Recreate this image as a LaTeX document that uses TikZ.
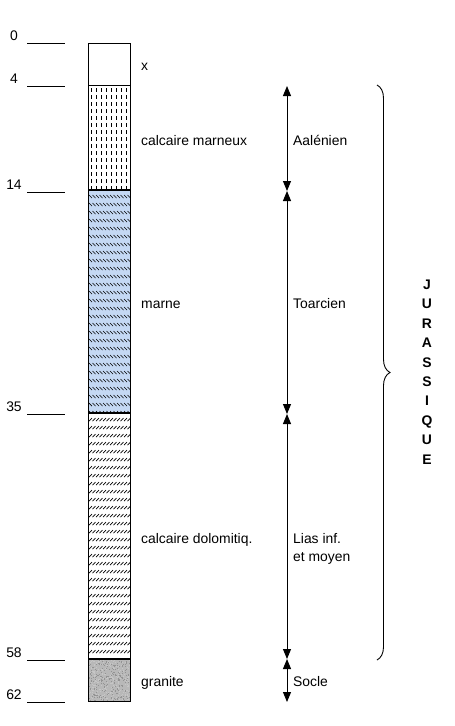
\documentclass[tikz,border=0pt]{standalone}
\usepackage{fontspec}
\setmainfont{Liberation Sans}
\usetikzlibrary{arrows.meta,decorations.pathreplacing,positioning}

\definecolor{marneblue}{RGB}{196,216,243}
\definecolor{granitegray}{RGB}{184,184,184}

\begin{document}
\begin{tikzpicture}[
    x=1pt, y=-1pt,
    txt/.style={font=\fontsize{13.9}{18}\selectfont, inner sep=0pt},
    label/.style={txt, anchor=base west, align=left},
    depth/.style={txt, anchor=base},
    tick/.style={line width=1pt},
    span/.style={{Triangle[width=8pt,length=10pt]}-{Triangle[width=8pt,length=10pt]}, line width=1pt},
    bound/.style={line width=1.8pt},
    hatch/.style={line width=0.7pt}
]
    \useasboundingbox (0,0) rectangle (455,726);

    % Depth scale
    \foreach \d/\y in {0/43, 4/86, 14/192, 35/414, 58/660, 62/702} {
        \draw[tick] (27,\y) -- (65,\y);
        \node[depth] (num\d) at (14,\y-3) {\d};
    }

    % Column fills
    \fill[marneblue] (88,190) rectangle (130,413);
    \fill[granitegray] (88,659) rectangle (130,701);
    \pgfmathsetseed{7}
    \foreach \i in {1,...,260} {
        \fill[gray!45] (88+42*rnd,659+42*rnd) rectangle +(1,1);
        \fill[gray!85] (88+42*rnd,659+42*rnd) rectangle +(1,1);
    }

    % calcaire marneux
    \begin{scope}
        \clip (88,85) rectangle (130,190);
        \foreach \x in {91,96,...,128}
            \foreach \y in {88,95,...,188}
                \draw[hatch] (\x,\y) -- (\x,\y+4);
    \end{scope}

    % marne
    \begin{scope}
        \clip (88,190) rectangle (130,413);
        \foreach \y in {195,203,...,411}
            \foreach \x in {89,92.5,...,128}
                \draw[hatch] (\x,\y) -- (\x+3,\y+3);
    \end{scope}

    % calcaire dolomitique
    \begin{scope}
        \clip (88,413) rectangle (130,659);
        \foreach \y in {418,426,...,656}
            \foreach \x in {89,92.5,...,128}
                \draw[hatch] (\x,\y+3) -- (\x+3,\y);
    \end{scope}

    % Column outline and boundaries
    \draw[line width=1pt] (88,43) rectangle (130,701);
    \draw[line width=1pt] (88,85) -- (130,85);
    \draw[bound] (88,190) -- (130,190);
    \draw[bound] (88,413) -- (130,413);
    \draw[bound] (88,659) -- (130,659);

    % Lithology
    \node[label] (litx) at (141,70) {x};
    \node[label] (litmarneux) at (141,145) {calcaire marneux};
    \node[label] (litmarne) at (141,308) {marne};
    \node[label] (litdolo) at (141,543) {calcaire dolomitiq.};
    \node[label] (litgranite) at (141,686) {granite};

    % Stages
    \foreach \y [count=\i] in {86,191,414,659,702}
        \coordinate (st\i) at (287,\y);
    \draw[span] (st1) -- (st2);
    \draw[span] (st2) -- (st3);
    \draw[span] (st3) -- (st4);
    \draw[span] (st4) -- (st5);
    \node[label] (aalenien) at (293,145) {Aalénien};
    \node[label] (toarcien) at (293,308) {Toarcien};
    \node[label] (lias) at (293,561) {Lias inf.\\et moyen};
    \node[label] (socle) at (293,686) {Socle};

    % Jurassique
    \coordinate (jtop) at (377,85);
    \coordinate (jbot) at (377,660);
    \draw[line width=0.9pt, decorate, decoration={brace, amplitude=13pt}] (jtop) -- (jbot);
    \node[txt, font=\fontsize{13.9}{19.4}\selectfont\bfseries, align=center] (jura) at (427,372)
        {J\\U\\R\\A\\S\\S\\I\\Q\\U\\E};
\end{tikzpicture}
\end{document}
